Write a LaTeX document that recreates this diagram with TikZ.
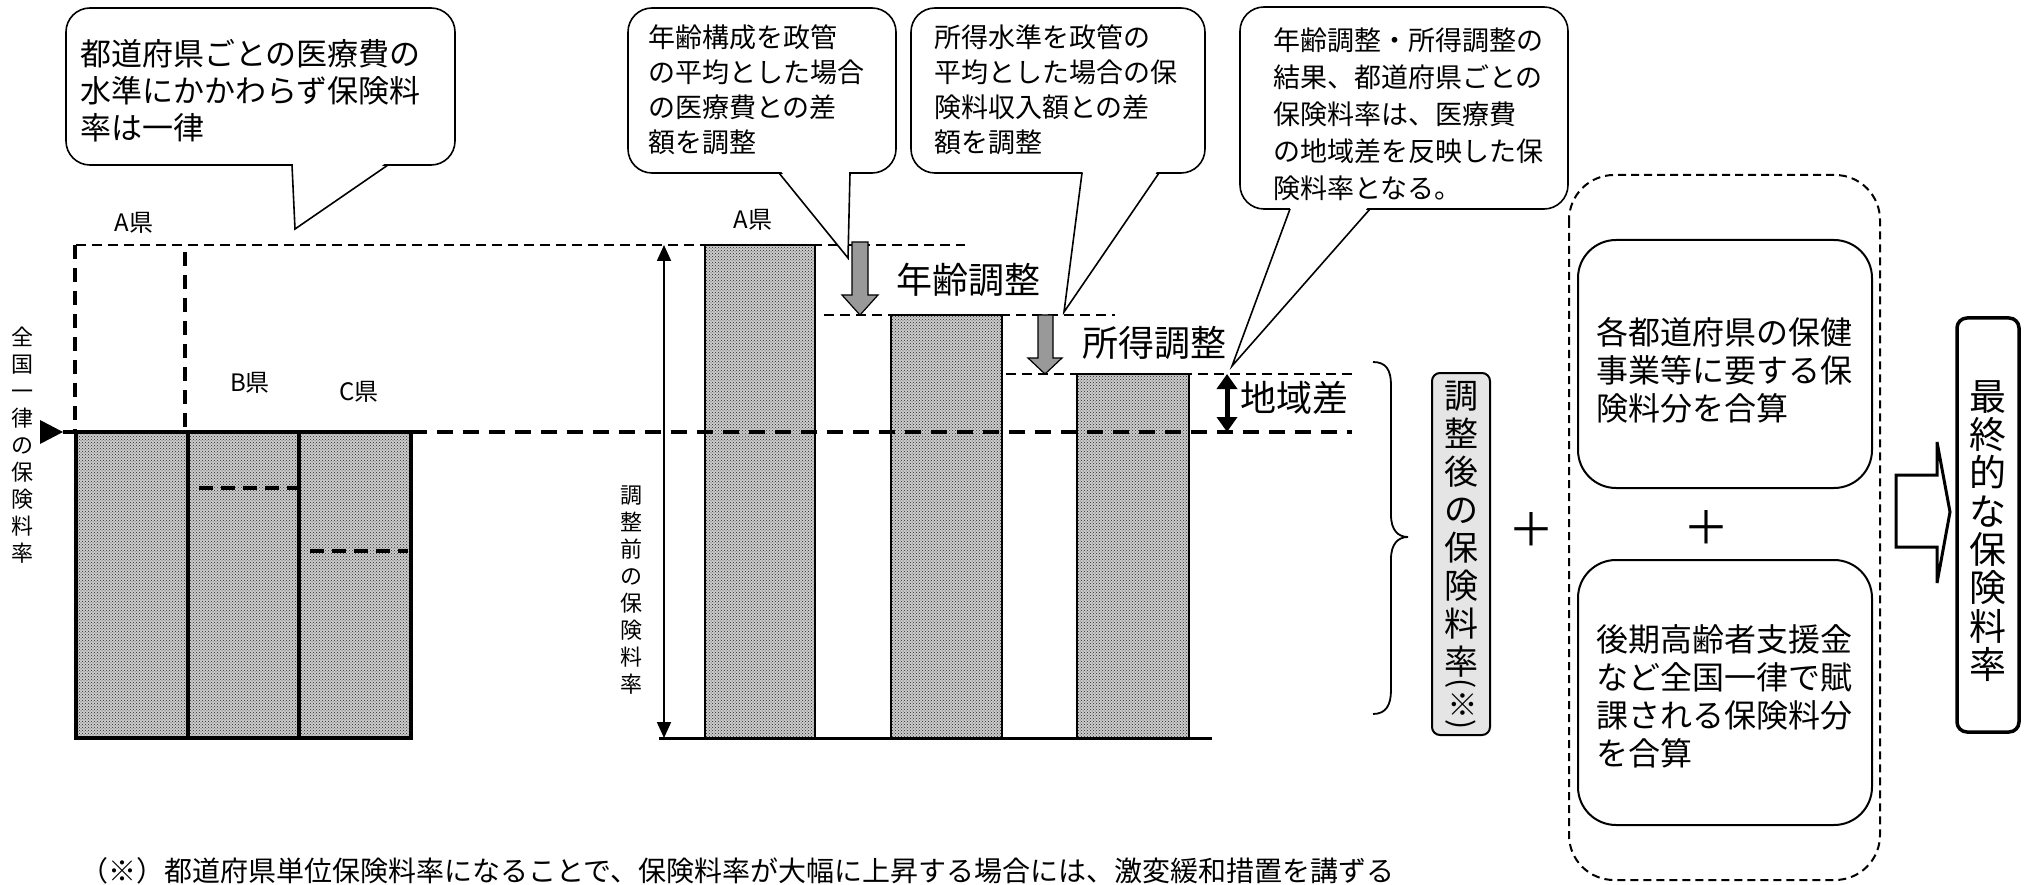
\documentclass[tikz,border=0pt]{standalone}
\usepackage{fontspec}
\setmainfont{Noto Sans CJK JP}
\usetikzlibrary{patterns,arrows.meta}
\begin{document}
\begin{tikzpicture}[x=1pt,y=-1pt,
  every node/.style={inner sep=0pt, outer sep=0pt},
  txt/.style={align=left, anchor=west},
  vtxt/.style={align=center},
  calloutbox/.style={draw=black, line width=1.6pt, fill=white, rounded corners=24pt},
  calloutptr/.style={draw=black, line width=1.6pt, line join=miter},
  stipple/.style={preaction={fill=black!20}, pattern=crosshatch dots, pattern color=black!85},
  lbar/.style={stipple, draw=black, line width=3.5pt},
  mbar/.style={stipple, draw=black, line width=2pt},
  thindash/.style={line width=2.4pt, dash pattern=on 10pt off 6pt},
  middash/.style={line width=3.2pt, dash pattern=on 14pt off 9pt},
  thickdash/.style={line width=4.5pt, dash pattern=on 16pt off 10pt},
  bardash/.style={line width=4pt, dash pattern=on 14pt off 8pt},
  grayarrow/.style={fill=black!40, draw=black, line width=1.2pt, line join=miter},
  roundbox/.style={draw=black, line width=2pt, rounded corners=38pt, fill=white},
]
\useasboundingbox (0,0) rectangle (2027,885);
\fill[white] (0,0) rectangle (2027,885);

% ---------------- left section ----------------
\draw[lbar] (76,432) rectangle (188,738);
\draw[lbar] (188,432) rectangle (299,738);
\draw[lbar] (299,432) rectangle (411,738);
\draw[bardash] (199,488) -- (297,488);
\draw[bardash] (310,551) -- (408,551);
\draw[middash] (75,245) -- (75,430);
\draw[middash] (185,252) -- (185,430);
\draw[thindash] (76,245) -- (965,245);
\draw[line width=4pt] (63,432) -- (411,432);
\fill (40,420) -- (63,432) -- (40,444) -- cycle;
\node[vtxt, font=\fontsize{22}{27}\selectfont] (allrate) at (23,445) {全\\国\\一\\律\\の\\保\\険\\料\\率};
\node[font=\fontsize{24}{24}\selectfont] (ken1) at (134,223) {A県};
\node[font=\fontsize{24}{24}\selectfont] (ken2) at (250,383) {B県};
\node[font=\fontsize{24}{24}\selectfont] (ken3) at (359,392) {C県};

% ---------------- middle section ----------------
\draw[mbar] (705,245) rectangle (815,738);
\draw[mbar] (891,315) rectangle (1002,738);
\draw[mbar] (1077,374) rectangle (1189,738);
\node[font=\fontsize{24}{24}\selectfont] (ken4) at (753,220) {A県};
\draw[line width=3pt] (659,738) -- (1212,738);
\coordinate (pretop) at (664,245);
\coordinate (prebot) at (664,738);
\draw[line width=1.8pt, {Triangle[width=14pt,length=16pt]}-{Triangle[width=14pt,length=16pt]}] (pretop) -- (prebot);
\node[vtxt, font=\fontsize{22}{27}\selectfont] (prerate) at (631,590) {調\\整\\前\\の\\保\\険\\料\\率};
\draw[thindash] (824,315) -- (1115,315);
\draw[thindash] (1006,374) -- (1353,374);
\draw[thickdash] (411,432) -- (1352,432);
% gray arrows
\draw[grayarrow] (852,242) -- (868,242) -- (868,295) -- (878,295) -- (860,315) -- (842,295) -- (852,295) -- cycle;
\draw[grayarrow] (1038,315) -- (1053,315) -- (1053,358) -- (1062,358) -- (1045,374) -- (1028,358) -- (1038,358) -- cycle;
\node[txt, font=\fontsize{36}{36}\selectfont] (ageadj) at (896,280) {年齢調整};
\node[txt, font=\fontsize{36}{36}\selectfont] (incadj) at (1082,343) {所得調整};
\coordinate (regtop) at (1227,374);
\coordinate (regbot) at (1227,432);
\draw[line width=5pt, {Triangle[width=20pt,length=15pt]}-{Triangle[width=20pt,length=15pt]}] (regtop) -- (regbot);
\node[txt, font=\fontsize{36}{36}\selectfont] (regdiff) at (1240,398) {地域差};

% ---------------- callouts ----------------
\draw[calloutbox] (66,8) rectangle (455,165);
\coordinate (c1tip) at (295,229);
\fill[white] (293,162) -- (c1tip) -- (387,162) -- cycle;
\draw[calloutptr] (292,165) -- (c1tip) -- (388,165);
\node[txt, font=\fontsize{31}{37}\selectfont] (c1text) at (80,91) {都道府県ごとの医療費の\\水準にかかわらず保険料\\率は一律};

\draw[calloutbox] (628,8) rectangle (896,173);
\coordinate (c2tip) at (848,258);
\fill[white] (780,170) -- (c2tip) -- (849,170) -- cycle;
\draw[calloutptr] (779,173) -- (c2tip) -- (850,173);
\node[txt, font=\fontsize{27}{35}\selectfont] (c2text) at (648,90) {年齢構成を政管\\の平均とした場合\\の医療費との差\\額を調整};

\draw[calloutbox] (911,8) rectangle (1205,173);
\coordinate (c3tip) at (1064,312);
\fill[white] (1083,170) -- (c3tip) -- (1158,170) -- cycle;
\draw[calloutptr] (1082,173) -- (c3tip) -- (1159,173);
\node[txt, font=\fontsize{27}{35}\selectfont] (c3text) at (934,90) {所得水準を政管の\\平均とした場合の保\\険料収入額との差\\額を調整};

\draw[calloutbox] (1240,7) rectangle (1568,209);
\coordinate (c4tip) at (1232,366);
\fill[white] (1291,206) -- (c4tip) -- (1369,206) -- cycle;
\draw[calloutptr] (1290,209) -- (c4tip) -- (1370,209);
\node[txt, font=\fontsize{27}{37}\selectfont] (c4text) at (1273,114) {年齢調整・所得調整の\\結果、都道府県ごとの\\保険料率は、医療費\\の地域差を反映した保\\険料率となる。};

% ---------------- right section ----------------
\draw[line width=1.8pt] (1373,362) .. controls (1386,362) and (1391,370) .. (1391,385) -- (1391,515) .. controls (1391,530) and (1398,537) .. (1408,537) .. controls (1398,537) and (1391,544) .. (1391,559) -- (1391,690) .. controls (1391,705) and (1386,714) .. (1373,714);
\draw[line width=2pt, rounded corners=8pt, fill=black!10] (1432,373) rectangle (1490,735);
\node[vtxt, font=\fontsize{34}{38}\selectfont] (adjrate) at (1461,529) {調\\整\\後\\の\\保\\険\\料\\率};
\node[font=\fontsize{30}{30}\selectfont] (adjnote) at (1461,704) {\rotatebox{-90}{(※)}};
\node[font=\fontsize{46}{46}\selectfont] (plus1) at (1531,530) {＋};

\draw[line width=2pt, dash pattern=on 8pt off 5pt, rounded corners=45pt] (1569,175) rectangle (1880,880);
\draw[roundbox] (1578,240) rectangle (1872,488);
\draw[roundbox] (1578,560) rectangle (1872,825);
\node[txt, font=\fontsize{32}{38}\selectfont] (hlth) at (1596,370) {各都道府県の保健\\事業等に要する保\\険料分を合算};
\node[txt, font=\fontsize{32}{38}\selectfont] (elder) at (1596,696) {後期高齢者支援金\\など全国一律で賦\\課される保険料分\\を合算};
\node[font=\fontsize{46}{46}\selectfont] (plus2) at (1706,528) {＋};

\draw[line width=3pt, line join=miter] (1896,475) -- (1937,475) -- (1937,442) -- (1950,512) -- (1937,583) -- (1937,547) -- (1896,547) -- cycle;
\draw[line width=3.5pt, rounded corners=10pt] (1957,318) rectangle (2019,732);
\node[vtxt, font=\fontsize{37}{38.3}\selectfont] (final) at (1988,531) {最\\終\\的\\な\\保\\険\\料\\率};

% ---------------- footnote ----------------
\node[txt, font=\fontsize{28}{28}\selectfont] (note) at (80,871) {（※）都道府県単位保険料率になることで、保険料率が大幅に上昇する場合には、激変緩和措置を講ずる};
\end{tikzpicture}
\end{document}
